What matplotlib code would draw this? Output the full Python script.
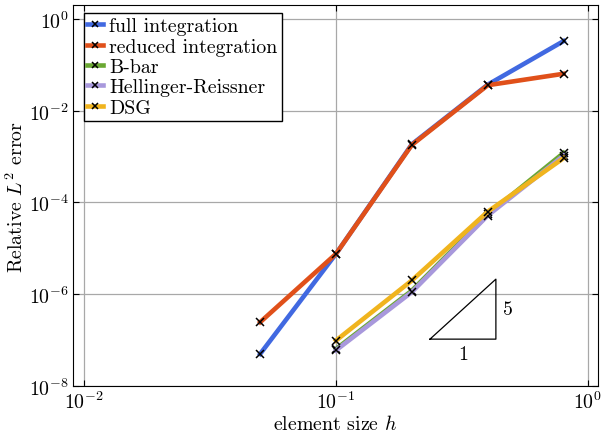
import numpy as np
import matplotlib
matplotlib.use("Agg")
import matplotlib.pyplot as plt
from matplotlib.ticker import NullLocator

plt.rcParams['font.family'] = 'serif'
plt.rcParams['font.serif'] = ['cmr10']
plt.rcParams['mathtext.fontset'] = 'cm'
plt.rcParams['axes.formatter.use_mathtext'] = True

h = [0.05, 0.1, 0.2, 0.4, 0.8]
h_low = [0.1, 0.2, 0.4, 0.8]

full_integration = [5.0e-8, 7.6e-6, 1.86e-3, 0.037, 0.33]
reduced_integration = [2.46e-7, 7.6e-6, 1.8e-3, 0.036, 0.064]
b_bar = [6.4e-8, 1.2e-6, 5.5e-5, 1.2e-3]
hellinger_reissner = [6.0e-8, 1.12e-6, 5.2e-5, 1.05e-3]
dsg = [9.8e-8, 2.0e-6, 6.3e-5, 0.93e-3]

labels = ["full integration", "reduced integration", "B-bar",
          "Hellinger-Reissner", "DSG"]
colors = ["#4169e1", "#e0501a", "#6aa832", "#a898dc", "#f0b41e"]

x_ticks = [1e-2, 1e-1, 1e0]
y_ticks = [1e-8, 1e-6, 1e-4, 1e-2, 1e0]

tri_x = [0.236, 0.431]
tri_y0 = 1.05e-7
slope = 5

fs = 14.3

fig = plt.figure(figsize=(6.01, 4.39), dpi=100)
ax = fig.add_axes([0.1215, 0.1185, 0.8735, 0.8678])

series = [(h, full_integration), (h, reduced_integration), (h_low, b_bar),
          (h_low, hellinger_reissner), (h_low, dsg)]
for (xs, ys), lab, c in zip(series, labels, colors):
    ax.plot(xs, ys, color=c, lw=3.3, marker='x', ms=6, mec='black',
            mew=1.1, label=lab)

# slope triangle
x0, x1 = tri_x
y1 = tri_y0 * (x1 / x0) ** slope
ax.plot([x0, x1, x1, x0], [tri_y0, tri_y0, y1, tri_y0], color='black', lw=0.9)
ax.text(np.sqrt(x0 * x1), tri_y0 / 1.35, "1", ha='center', va='top', fontsize=fs)
ax.text(x1 * 1.07, np.sqrt(tri_y0 * y1), "5", ha='left', va='center', fontsize=fs)

ax.set_xscale('log')
ax.set_yscale('log')
ax.set_xticks(x_ticks)
ax.set_yticks(y_ticks)
ax.xaxis.set_minor_locator(NullLocator())
ax.yaxis.set_minor_locator(NullLocator())
ax.set_xlim(10 ** -2.0437, 10 ** 0.0397)
ax.set_ylim(1e-8, 10 ** 0.305)
ax.tick_params(direction='in', top=True, right=True, labelsize=fs, length=4,
               pad=3)
ax.grid(True, color='#a8a8a8', lw=0.9)
ax.set_axisbelow(True)
ax.set_xlabel("element size $h$", fontsize=fs, labelpad=2)
ax.set_ylabel("Relative $L^2$ error", fontsize=fs, labelpad=1)

leg = ax.legend(loc='upper left', bbox_to_anchor=(0.02, 0.978), fontsize=fs,
                handlelength=0.8, handletextpad=0.3, labelspacing=0.12,
                borderpad=0.2, fancybox=False, framealpha=1,
                edgecolor='black', borderaxespad=0.0, markerscale=0.7)
leg.get_frame().set_linewidth(1.0)

fig.savefig("out.png", dpi=100)
